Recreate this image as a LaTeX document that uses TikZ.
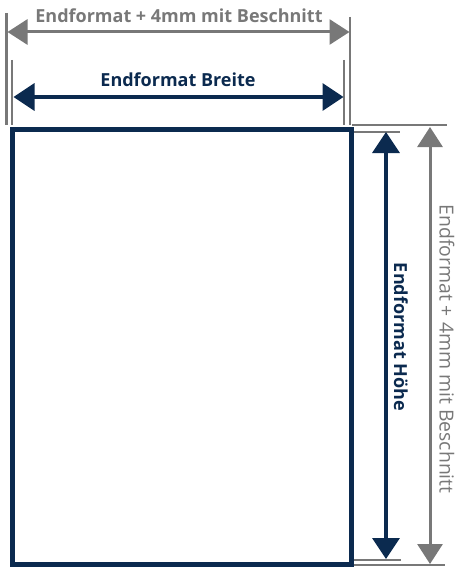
\documentclass[tikz,border=0pt]{standalone}
\usepackage{fontspec}
\setmainfont{Open Sans}
\usetikzlibrary{arrows.meta}
\definecolor{navy}{HTML}{0B2A4F}
\definecolor{grayline}{HTML}{787878}
\tikzset{
  ext/.style={draw=grayline, line width=2.5pt},
  grayarrow/.style={draw=grayline, line width=3pt, {Triangle[length=20pt,width=25pt]}-{Triangle[length=20pt,width=25pt]}},
  navyarrow/.style={draw=navy, line width=3.5pt, {Triangle[length=21pt,width=27pt]}-{Triangle[length=21pt,width=27pt]}},
  navylabel/.style={text=navy, font=\fontsize{18}{20}\selectfont\bfseries, inner sep=0pt},
  graylabel/.style={text=grayline, font=\fontsize{19.4}{22}\selectfont, inner sep=0pt},
}
\begin{document}
\begin{tikzpicture}[x=1pt,y=-1pt]
\useasboundingbox (0,0) rectangle (458,567);
% extension lines top
\coordinate (lo1) at (6.5,13); \coordinate (lo2) at (6.5,125);
\coordinate (ro1) at (350,17); \coordinate (ro2) at (350,125);
\coordinate (li1) at (12,60); \coordinate (li2) at (12,125);
\coordinate (ri1) at (344,60); \coordinate (ri2) at (344,125);
\draw[ext] (lo1) -- (lo2);
\draw[ext] (ro1) -- (ro2);
\draw[ext] (li1) -- (li2);
\draw[ext] (ri1) -- (ri2);
% extension lines right
\coordinate (t1a) at (352,125); \coordinate (t1b) at (447,125);
\coordinate (t2a) at (352,132); \coordinate (t2b) at (400,132);
\coordinate (b1a) at (352,560); \coordinate (b1b) at (401,560);
\coordinate (b2a) at (352,565); \coordinate (b2b) at (445,565);
\draw[ext] (t1a) -- (t1b);
\draw[ext] (t2a) -- (t2b);
\draw[ext] (b1a) -- (b1b);
\draw[ext] (b2a) -- (b2b);
% format rectangle
\node[draw=navy, line width=5pt, minimum width=339pt, minimum height=435pt, inner sep=0pt, anchor=north west] (page) at (9.5,127) {};
% arrows
\coordinate (ga1) at (7.5,32); \coordinate (ga2) at (349.5,32);
\draw[grayarrow] (ga1) -- (ga2);
\coordinate (na1) at (13.5,97); \coordinate (na2) at (343.5,97);
\draw[navyarrow] (na1) -- (na2);
\coordinate (nv1) at (386,132); \coordinate (nv2) at (386,559);
\draw[navyarrow] (nv1) -- (nv2);
\coordinate (gv1) at (430,127); \coordinate (gv2) at (430,564);
\draw[grayarrow] (gv1) -- (gv2);
% labels
\node[graylabel, font=\fontsize{18}{20}\selectfont\bfseries, anchor=base] (tlab) at (179,23) {Endformat + 4mm mit Beschnitt};
\node[navylabel, anchor=base] (blab) at (178,87) {Endformat Breite};
\node[navylabel, rotate=-90] (hlab) at (401,337) {Endformat Höhe};
\node[graylabel, rotate=-90] (rlab) at (447,349) {Endformat + 4mm mit Beschnitt};
\end{tikzpicture}
\end{document}
